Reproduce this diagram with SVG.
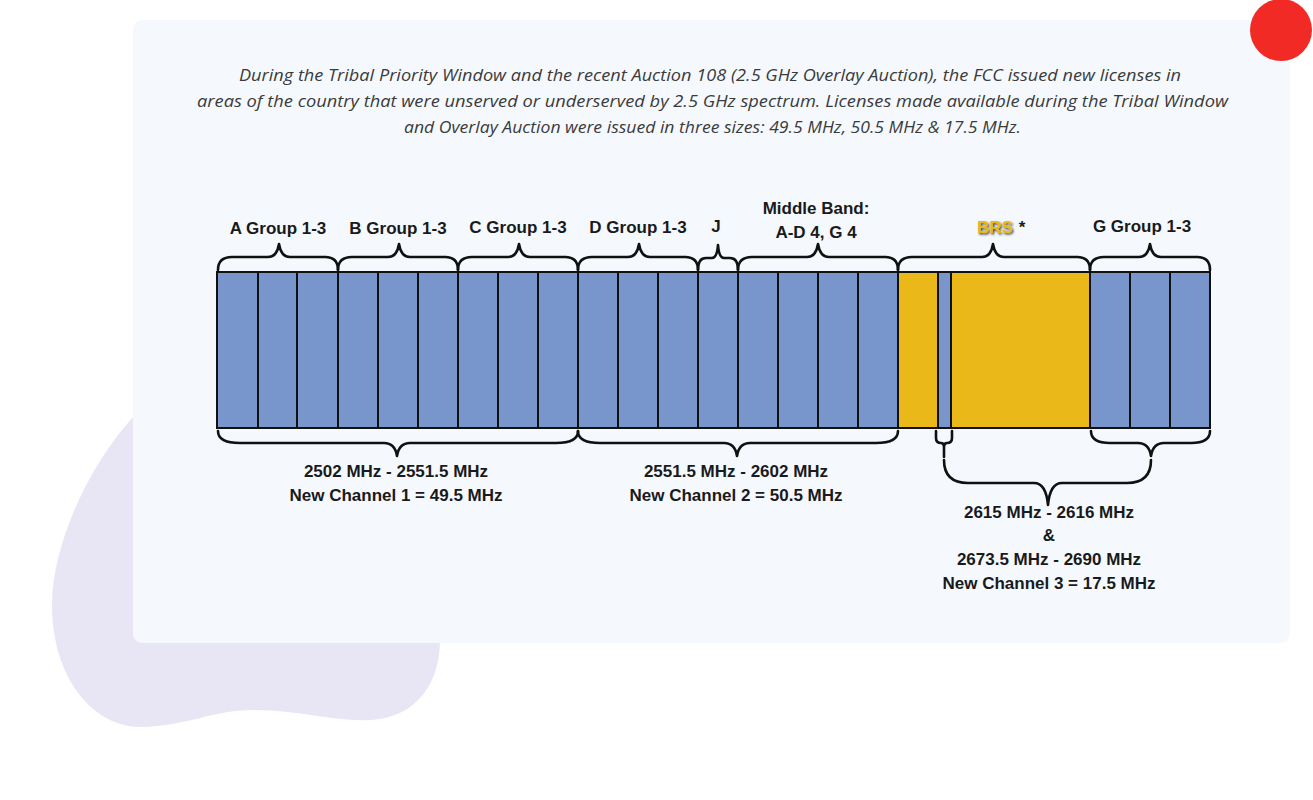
<svg xmlns="http://www.w3.org/2000/svg" width="1313" height="800" viewBox="0 0 1313 800">
<defs>
<style>
.intro{font-family:"Open Sans","Liberation Sans",sans-serif;font-style:italic;font-size:15.5px;fill:#3b3b3b;text-anchor:middle}
.lbl{font-family:"Liberation Sans","DejaVu Sans",sans-serif;font-weight:bold;font-size:17px;fill:#1a1a1a;text-anchor:middle}
.blue{fill:#7896cc;stroke:#111;stroke-width:2}
.gold{fill:#ebb81a;stroke:#111;stroke-width:2}
.brace{fill:none;stroke:#111;stroke-width:2.6;stroke-linecap:round;stroke-linejoin:round}
</style>
<filter id="sh" x="-20%" y="-20%" width="140%" height="160%">
<feDropShadow dx="1.2" dy="1.5" stdDeviation="0.8" flood-color="#000" flood-opacity="0.8"/>
</filter>
</defs>
<rect width="1313" height="800" fill="#ffffff"/>
<path id="blob" d="M 150,400 C 95,450 52,540 52,605 C 52,680 95,728 142,727 C 185,726 215,710 252,710 C 300,710 335,722 372,720 C 415,717 440,685 440,640 L 440,520 C 400,440 250,380 150,400 Z" fill="#e8e6f4"/>
<rect id="card" x="133" y="20" width="1157" height="623" rx="9" fill="#f5f9fe"/>
<circle id="dot" cx="1281" cy="30" r="31" fill="#f2231f" opacity="0.97"/>

<g id="intro">
<text class="intro" x="710" y="81" textLength="942" lengthAdjust="spacingAndGlyphs">During the Tribal Priority Window and the recent Auction 108 (2.5 GHz Overlay Auction), the FCC issued new licenses in</text>
<text class="intro" x="712.5" y="107" textLength="1031" lengthAdjust="spacingAndGlyphs">areas of the country that were unserved or underserved by 2.5 GHz spectrum. Licenses made available during the Tribal Window</text>
<text class="intro" x="712.5" y="133" textLength="617" lengthAdjust="spacingAndGlyphs">and Overlay Auction were issued in three sizes: 49.5 MHz, 50.5 MHz &amp; 17.5 MHz.</text>
</g>

<g id="bar">
<rect class="blue" x="217" y="272" width="41" height="156"/>
<rect class="blue" x="258" y="272" width="39" height="156"/>
<rect class="blue" x="297" y="272" width="41" height="156"/>
<rect class="blue" x="338" y="272" width="40" height="156"/>
<rect class="blue" x="378" y="272" width="40" height="156"/>
<rect class="blue" x="418" y="272" width="40" height="156"/>
<rect class="blue" x="458" y="272" width="40" height="156"/>
<rect class="blue" x="498" y="272" width="40" height="156"/>
<rect class="blue" x="538" y="272" width="40" height="156"/>
<rect class="blue" x="578" y="272" width="40" height="156"/>
<rect class="blue" x="618" y="272" width="40" height="156"/>
<rect class="blue" x="658" y="272" width="40" height="156"/>
<rect class="blue" x="698" y="272" width="40" height="156"/>
<rect class="blue" x="738" y="272" width="40" height="156"/>
<rect class="blue" x="778" y="272" width="40" height="156"/>
<rect class="blue" x="818" y="272" width="40" height="156"/>
<rect class="blue" x="858" y="272" width="40" height="156"/>
<rect class="gold" x="898" y="272" width="40" height="156"/>
<rect class="blue" x="938" y="272" width="13" height="156"/>
<rect class="gold" x="951" y="272" width="139" height="156"/>
<rect class="blue" x="1090" y="272" width="40" height="156"/>
<rect class="blue" x="1130" y="272" width="40" height="156"/>
<rect class="blue" x="1170" y="272" width="40" height="156"/>
</g>

<g id="braces">
<path class="brace" d="M218,270 Q218,257 232,257 L268,257 Q277,257 279,244 Q281,257 290,257 L325,257 Q338,257 338,270"/>
<path class="brace" d="M338,270 Q338,257 352,257 L388,257 Q397,257 399,244 Q401,257 410,257 L445,257 Q458,257 458,270"/>
<path class="brace" d="M458,270 Q458,257 472,257 L508,257 Q517,257 519,244 Q521,257 530,257 L565,257 Q578,257 578,270"/>
<path class="brace" d="M578,270 Q578,257 592,257 L628,257 Q637,257 639,244 Q641,257 650,257 L685,257 Q698,257 698,270"/>
<path class="brace" d="M698,270 Q698,258 706,258 L712,258 Q717,258 718,245 Q719,258 724,258 L730,258 Q738,258 738,270"/>
<path class="brace" d="M738,270 Q738,257 752,257 L807,257 Q816,257 818,244 Q820,257 829,257 L885,257 Q898,257 898,270"/>
<path class="brace" d="M898,270 Q898,257 912,257 L982,257 Q991,257 993,244 Q995,257 1004,257 L1077,257 Q1090,257 1090,270"/>
<path class="brace" d="M1090,270 Q1090,257 1104,257 L1139,257 Q1148,257 1150,244 Q1152,257 1161,257 L1197,257 Q1210,257 1210,270"/>

<path class="brace" d="M218,431 Q218,443 240,443 L384,443 Q395,443 397,456 Q399,443 410,443 L556,443 Q578,443 578,431"/>
<path class="brace" d="M578,431 Q578,443 600,443 L724,443 Q735,443 737,456 Q739,443 750,443 L876,443 Q898,443 898,431"/>
<path class="brace" d="M936,431 L936,438 Q936,443 941,443 Q944,443 944,447 L944,457 M952,431 L952,438 Q952,443 947,443 Q944,443 944,447"/>
<path class="brace" d="M1091,431 Q1091,443 1110,443 L1138,443 Q1149,443 1151,456 Q1153,443 1164,443 L1191,443 Q1210,443 1210,431"/>
<path class="brace" d="M944,460 Q944,483 968,483 L1034,483 Q1046,483 1048,505 Q1050,483 1062,483 L1127,483 Q1151,483 1151,460"/>
</g>

<g id="top-labels">
<text class="lbl" x="278" y="234">A Group 1-3</text>
<text class="lbl" x="398" y="234">B Group 1-3</text>
<text class="lbl" x="518" y="233">C Group 1-3</text>
<text class="lbl" x="638" y="233">D Group 1-3</text>
<text class="lbl" x="716" y="232">J</text>
<text class="lbl" x="816" y="214">Middle Band:</text>
<text class="lbl" x="816" y="238">A-D 4, G 4</text>
<text class="lbl" x="995" y="233" style="fill:#ebb81a" filter="url(#sh)">BRS</text>
<text class="lbl" x="1022" y="233">*</text>
<text class="lbl" x="1142" y="232">G Group 1-3</text>
</g>

<g id="bottom-labels">
<text class="lbl" x="396" y="477">2502 MHz - 2551.5 MHz</text>
<text class="lbl" x="396" y="501">New Channel 1 = 49.5 MHz</text>
<text class="lbl" x="736" y="477">2551.5 MHz - 2602 MHz</text>
<text class="lbl" x="736" y="501">New Channel 2 = 50.5 MHz</text>
<text class="lbl" x="1049" y="518">2615 MHz - 2616 MHz</text>
<text class="lbl" x="1049" y="541">&amp;</text>
<text class="lbl" x="1049" y="565">2673.5 MHz - 2690 MHz</text>
<text class="lbl" x="1049" y="589">New Channel 3 = 17.5 MHz</text>
</g>
</svg>
